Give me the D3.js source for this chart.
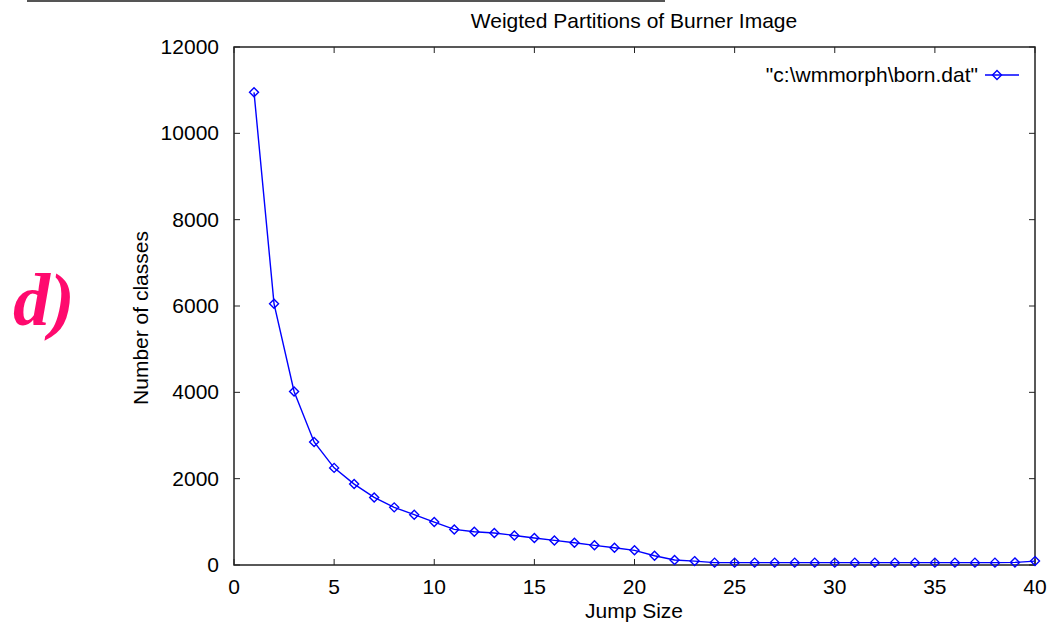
<!DOCTYPE html>
<html>
<head>
<meta charset="utf-8">
<script src="https://cdn.jsdelivr.net/npm/d3@7"></script>
<style>
  body { margin: 0; background: #fff; }
  svg { display: block; font-family: "Liberation Sans", Arial, sans-serif; }
</style>
</head>
<body>
<script>
const W = 1052, H = 622;

// jump size vs number of classes
const jumpSize = [1,2,3,4,5,6,7,8,9,10,11,12,13,14,15,16,17,18,19,20,
  21,22,23,24,25,26,27,28,29,30,31,32,33,34,35,36,37,38,39,40];
const numClasses = [10950,6050,4020,2850,2250,1875,1565,1335,1165,995,
  825,770,740,685,625,570,515,455,400,340,
  215,115,90,55,55,55,55,55,55,55,55,55,55,55,55,55,55,55,60,90];

const xTicks = [0,5,10,15,20,25,30,35,40];
const yTicks = [0,2000,4000,6000,8000,10000,12000];

const title = "Weigted Partitions of Burner Image";
const legendLabel = "\"c:\\wmmorph\\born.dat\"";

const margin = {left: 234, right: 1035, top: 47, bottom: 565};
const TICK = 6;
const FS = 21;

const svg = d3.select("body").append("svg")
  .attr("width", W).attr("height", H);

const sx = d3.scaleLinear().domain([0, 40]).range([margin.left, margin.right]);
const sy = d3.scaleLinear().domain([0, 12000]).range([margin.bottom, margin.top]);

// separator line at the very top
svg.append("line")
  .attr("x1", 27).attr("x2", 665).attr("y1", 1).attr("y2", 1)
  .attr("stroke", "#555").attr("stroke-width", 2);

// panel label
svg.append("text")
  .attr("x", 13).attr("y", 325)
  .attr("font-family", "'Liberation Serif', 'Times New Roman', serif")
  .attr("font-weight", "bold").attr("font-style", "italic")
  .attr("font-size", 74).attr("fill", "#ff0a6e")
  .text("d)");

// ticks, mirrored on all sides
const tg = svg.append("g").attr("stroke", "#222").attr("stroke-width", 1);
xTicks.forEach(t => {
  tg.append("line").attr("x1", sx(t)).attr("x2", sx(t))
    .attr("y1", margin.bottom).attr("y2", margin.bottom - TICK);
  tg.append("line").attr("x1", sx(t)).attr("x2", sx(t))
    .attr("y1", margin.top).attr("y2", margin.top + TICK);
});
yTicks.forEach(t => {
  tg.append("line").attr("x1", margin.left).attr("x2", margin.left + TICK)
    .attr("y1", sy(t)).attr("y2", sy(t));
  tg.append("line").attr("x1", margin.right).attr("x2", margin.right - TICK)
    .attr("y1", sy(t)).attr("y2", sy(t));
});

// frame
svg.append("rect")
  .attr("x", margin.left).attr("y", margin.top)
  .attr("width", margin.right - margin.left)
  .attr("height", margin.bottom - margin.top)
  .attr("fill", "none").attr("stroke", "#222").attr("stroke-width", 1.5);

// tick labels
svg.append("g").selectAll("text").data(xTicks).join("text")
  .attr("x", d => sx(d)).attr("y", margin.bottom + 29)
  .attr("text-anchor", "middle").attr("font-size", FS)
  .text(d => d);
svg.append("g").selectAll("text").data(yTicks).join("text")
  .attr("x", margin.left - 15).attr("y", d => sy(d) + 7)
  .attr("text-anchor", "end").attr("font-size", FS)
  .text(d => d);

// titles
svg.append("text").attr("x", 634).attr("y", 28)
  .attr("text-anchor", "middle").attr("font-size", FS).text(title);
svg.append("text").attr("x", 634).attr("y", 618)
  .attr("text-anchor", "middle").attr("font-size", FS).text("Jump Size");
svg.append("text")
  .attr("transform", "translate(148, 318) rotate(-90)")
  .attr("text-anchor", "middle").attr("font-size", FS).text("Number of classes");

// data line
const pts = jumpSize.map((d, i) => [d, numClasses[i]]);
const line = d3.line().x(d => sx(d[0])).y(d => sy(d[1]));
svg.append("path").datum(pts)
  .attr("d", line).attr("fill", "none")
  .attr("stroke", "#0000ff").attr("stroke-width", 1.4);

const diamond = "M0,-4.5L4.5,0L0,4.5L-4.5,0Z";
svg.append("g").selectAll("path").data(pts).join("path")
  .attr("transform", d => `translate(${sx(d[0])},${sy(d[1])})`)
  .attr("d", diamond)
  .attr("fill", "none").attr("stroke", "#0000ff").attr("stroke-width", 1.4);

// legend
svg.append("text").attr("x", 978).attr("y", 82)
  .attr("text-anchor", "end").attr("font-size", FS).text(legendLabel);
svg.append("line").attr("x1", 985).attr("x2", 1019).attr("y1", 75).attr("y2", 75)
  .attr("stroke", "#0000ff").attr("stroke-width", 1.4);
svg.append("path").attr("transform", "translate(997,75)").attr("d", diamond)
  .attr("fill", "none").attr("stroke", "#0000ff").attr("stroke-width", 1.4);
</script>
</body>
</html>
